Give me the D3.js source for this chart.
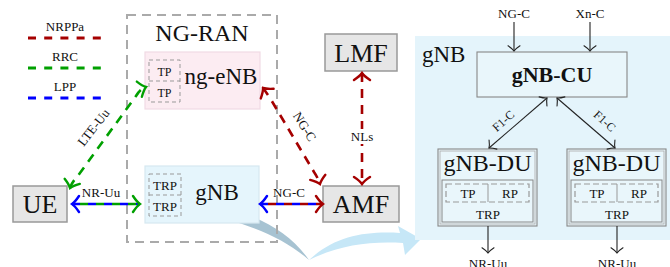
<!DOCTYPE html>
<html><head><meta charset="utf-8">
<script src="https://cdn.jsdelivr.net/npm/d3@7"></script>
<style>
html,body{margin:0;padding:0;background:#fff;}
svg{display:block;font-family:"Liberation Serif","Times New Roman",serif;}
</style></head>
<body><svg id="c" width="670" height="267"></svg>
<script>
// ---- data ----
const legendLabels = ["NRPPa", "RRC", "LPP"];
const protocolOf = {NRPPa: "nrppa", RRC: "rrc", LPP: "lpp"};
const nodeNames = ["UE", "LMF", "AMF"];
const ranNodes = ["ng-eNB", "gNB"];
const ranPoints = [["TP", "TP"], ["TRP", "TRP"]];
const links = [
  {name: "LTE-Uu", from: "UE", to: "ng-eNB", protocols: ["rrc"]},
  {name: "NR-Uu", from: "UE", to: "gNB", protocols: ["lpp", "rrc"]},
  {name: "NG-C", from: "ng-eNB", to: "AMF", protocols: ["nrppa"]},
  {name: "NG-C", from: "gNB", to: "AMF", protocols: ["lpp", "nrppa"]},
  {name: "NLs", from: "LMF", to: "AMF", protocols: ["nrppa"]}
];
const cuInputs = ["NG-C", "Xn-C"];
const duNames = ["gNB-DU", "gNB-DU"];
const duPoints = ["TP", "RP"];
const duOutput = "NR-Uu";
const f1Label = "F1-C";

// ---- styles ----
const colors = {nrppa: "#a50000", rrc: "#00a000", lpp: "#0000ff"};
const svg = d3.select("#c");
const defs = svg.append("defs");
function marker(id, color, w, s) {
  defs.append("marker").attr("id", id)
    .attr("markerUnits", "userSpaceOnUse")
    .attr("viewBox", `${-12*s} ${-12*s} ${14*s} ${24*s}`)
    .attr("markerWidth", 14*s).attr("markerHeight", 24*s)
    .attr("refX", 0).attr("refY", 0)
    .attr("orient", "auto-start-reverse")
    .append("path")
    .attr("d", `M${-7*s},${-8*s} Q${-3*s},${-2*s} 0,0 Q${-3*s},${2*s} ${-7*s},${8*s}`)
    .attr("fill", "none").attr("stroke", color).attr("stroke-width", w)
    .attr("stroke-linecap", "round");
}
Object.entries(colors).forEach(([k, c]) => marker("m-" + k, c, 2.4, 1));
marker("m-black", "#222", 1.1, 0.75);

const serif = "Liberation Serif";
function text(g, x, y, t, size, opts = {}) {
  return g.append("text").attr("x", x).attr("y", y).attr("text-anchor", opts.anchor || "middle")
    .attr("font-size", size).attr("font-weight", opts.bold ? "bold" : "normal")
    .attr("fill", opts.fill || "#111").attr("font-family", serif).text(t);
}

// ---- legend ----
const legY = d3.scalePoint().domain(legendLabels).range([31, 91]);
legendLabels.forEach(l => {
  text(svg, 65, legY(l), l, 13);
  svg.append("line").attr("x1", 28).attr("x2", 102).attr("y1", legY(l) + 7).attr("y2", legY(l) + 7)
    .attr("stroke", colors[protocolOf[l]]).attr("stroke-width", 2.8).attr("stroke-dasharray", "8,8.2");
});

// ---- swoosh (zoom callout) ----
svg.append("path")
  .attr("d", "M200,205 C240,207 285,225 309,260 C282,236 240,220 199,214 C194,212 195,206 200,205 Z")
  .attr("fill", "#a7c3d2");
svg.append("path")
  .attr("d", "M309,260 C335,236 365,231 400,233 L398,226 L421,239 L405,255 L403,243 C370,241 340,245 309,260 Z")
  .attr("fill", "#c6e7f7");

// ---- NG-RAN box ----
svg.append("rect").attr("x", 127).attr("y", 15).attr("width", 150).attr("height", 227)
  .attr("fill", "none").attr("stroke", "#aaa").attr("stroke-width", 2).attr("stroke-dasharray", "9,6");
text(svg, 202, 41, "NG-RAN", 24);

// ran nodes
const ranLayout = {
  "ng-eNB": {x: 145, y: 52, w: 115, h: 57, fill: "#fcecf2", stroke: "#f0dbe4", tx: 221, ty: 84},
  "gNB": {x: 145, y: 166, w: 114, h: 57, fill: "#e5f5fc", stroke: "#d6e8f0", tx: 217, ty: 200}
};
ranNodes.forEach((n, i) => {
  const L = ranLayout[n];
  svg.append("rect").attr("x", L.x).attr("y", L.y).attr("width", L.w).attr("height", L.h)
    .attr("fill", L.fill).attr("stroke", L.stroke).attr("stroke-width", 1.2);
  text(svg, L.tx, L.ty, n, 23);
  const pw = i === 0 ? 31 : 32;
  svg.append("rect").attr("x", L.x + 4).attr("y", L.y + 8).attr("width", pw).attr("height", 42)
    .attr("fill", "none").attr("stroke", "#999").attr("stroke-dasharray", "4,3");
  svg.append("line").attr("x1", L.x + 4).attr("x2", L.x + 4 + pw).attr("y1", L.y + 29).attr("y2", L.y + 29)
    .attr("stroke", "#999").attr("stroke-dasharray", "4,3");
  ranPoints[i].forEach((p, j) => text(svg, L.x + 4 + pw / 2, L.y + 24 + j * 21, p, i === 0 ? 12 : 13));
});

// core nodes
const nodeLayout = {
  UE: {x: 13, y: 186, w: 54, h: 36, size: 26},
  LMF: {x: 325, y: 34, w: 72, h: 37, size: 26},
  AMF: {x: 323, y: 186, w: 76, h: 36, size: 26}
};
nodeNames.forEach(n => {
  const L = nodeLayout[n];
  svg.append("rect").attr("x", L.x).attr("y", L.y).attr("width", L.w).attr("height", L.h)
    .attr("fill", "#e6e6e6").attr("stroke", "#999").attr("stroke-width", 1.5);
  text(svg, L.x + L.w / 2, L.y + L.h / 2 + 9, n, L.size);
});

// ---- links ----
const linkGeom = [
  {d: "M70,188 Q72,182 77,177 L136,96 Q140,89 146,87", lx: 97, ly: 130, rot: -52},
  {d: "M72,204 L140,204", lx: 101, ly: 197, rot: 0},
  {d: "M263,88 Q266,92 270,98 L314,172 Q318,178 320,184", lx: 301, ly: 129, rot: 58},
  {d: "M260,204 L323,204", lx: 289, ly: 197, rot: 0},
  {d: "M362,73 L362,184", lx: 362, ly: 141, rot: 0}
];
links.forEach((lk, i) => {
  const G = linkGeom[i];
  const ps = lk.protocols;
  if (ps.length === 1) {
    svg.append("path").attr("d", G.d).attr("fill", "none")
      .attr("stroke", colors[ps[0]]).attr("stroke-width", 2.6).attr("stroke-dasharray", "9,7")
      .attr("marker-start", `url(#m-${ps[0]})`).attr("marker-end", `url(#m-${ps[0]})`);
  } else {
    ps.forEach((p, j) => {
      svg.append("path").attr("d", G.d).attr("fill", "none")
        .attr("stroke", colors[p]).attr("stroke-width", 2.6).attr("stroke-dasharray", "8,8")
        .attr("stroke-dashoffset", j * 8)
        .attr(j === 0 ? "marker-start" : "marker-end", `url(#m-${p})`);
    });
  }
  if (lk.name === "NLs") {
    svg.append("rect").attr("x", G.lx - 13).attr("y", G.ly - 12).attr("width", 26).attr("height", 15).attr("fill", "#fff");
  }
  const t = text(svg, 0, 0, lk.name, 13).attr("transform", `translate(${G.lx},${G.ly}) rotate(${G.rot})`);
});

// ---- right panel: gNB split ----
const P = svg.append("g");
P.append("rect").attr("x", 415).attr("y", 36).attr("width", 260).attr("height", 204).attr("fill", "#e4f4fb");
text(P, 422, 62, "gNB", 23, {anchor: "start"});
// CU
P.append("rect").attr("x", 477).attr("y", 52).attr("width", 150).attr("height", 45)
  .attr("fill", "#e9f6fb").attr("stroke", "#888").attr("stroke-width", 1.1);
text(P, 552, 82, "gNB-CU", 22, {bold: true});
const cuX = d3.scalePoint().domain(cuInputs).range([514, 590]);
cuInputs.forEach(c => {
  text(P, cuX(c), 18, c, 13);
  P.append("line").attr("x1", cuX(c)).attr("x2", cuX(c)).attr("y1", 22).attr("y2", 51)
    .attr("stroke", "#222").attr("stroke-width", 1.1).attr("marker-end", "url(#m-black)");
});
// DUs
const duLayout = [{x: 438, cx: 488}, {x: 567, cx: 617}];
const f1Geom = [{x1: 547, x2: 489, lx: 506, ly: 124, rot: -42}, {x1: 557, x2: 615, lx: 602, ly: 124, rot: 42}];
duNames.forEach((n, i) => {
  const L = duLayout[i];
  const g = P.append("g");
  g.append("rect").attr("x", L.x).attr("y", 149).attr("width", 99).attr("height", 77)
    .attr("fill", "#e9f6fb").attr("stroke", "#888").attr("stroke-width", 1.1);
  g.append("rect").attr("x", L.x + 2).attr("y", 151).attr("width", 95).attr("height", 73)
    .attr("fill", "none").attr("stroke", "#aaa").attr("stroke-width", 0.8);
  text(g, L.x + 49.5, 171, n, 24);
  g.append("rect").attr("x", L.x + 4).attr("y", 180).attr("width", 91).attr("height", 42)
    .attr("fill", "none").attr("stroke", "#888").attr("stroke-width", 1);
  g.append("rect").attr("x", L.x + 8).attr("y", 184).attr("width", 83).attr("height", 18)
    .attr("fill", "none").attr("stroke", "#999").attr("stroke-width", 1.2).attr("stroke-dasharray", "6,3");
  g.append("line").attr("x1", L.cx).attr("x2", L.cx).attr("y1", 184).attr("y2", 202)
    .attr("stroke", "#999").attr("stroke-width", 1);
  const px = d3.scalePoint().domain(duPoints).range([L.x + 30, L.x + 72]);
  duPoints.forEach(p => text(g, px(p), 198, p, 13));
  text(g, L.cx, 219, "TRP", 13);
  // F1-C
  const F = f1Geom[i];
  P.append("line").attr("x1", F.x1).attr("y1", 98).attr("x2", F.x2).attr("y2", 148)
    .attr("stroke", "#222").attr("stroke-width", 1.1)
    .attr("marker-start", "url(#m-black)").attr("marker-end", "url(#m-black)");
  text(P, 0, 0, f1Label, 12).attr("transform", `translate(${F.lx},${F.ly}) rotate(${F.rot})`);
  // output
  P.append("line").attr("x1", L.cx).attr("x2", L.cx).attr("y1", 226).attr("y2", 253)
    .attr("stroke", "#222").attr("stroke-width", 1.1).attr("marker-end", "url(#m-black)");
  text(P, L.cx, 268, duOutput, 13);
});
</script></body></html>
